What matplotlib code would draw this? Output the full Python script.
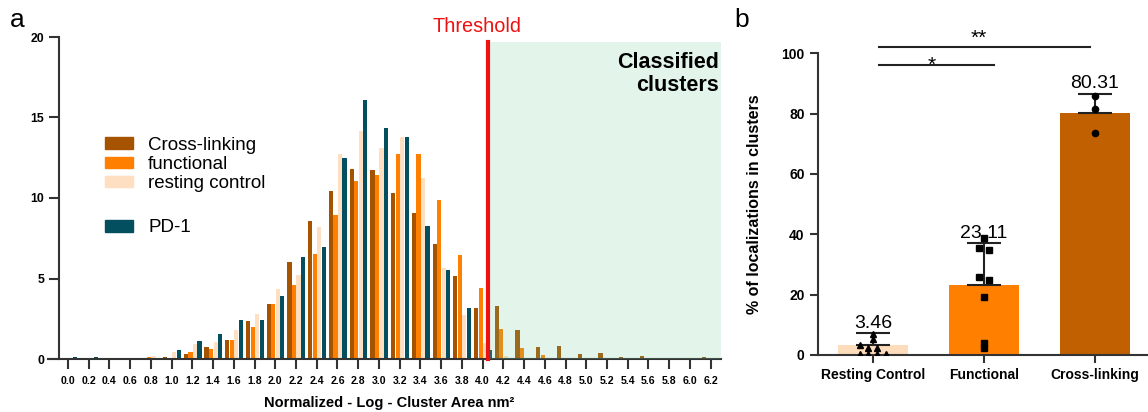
import numpy as np
import matplotlib.pyplot as plt
from matplotlib.patches import Patch

plt.rcParams['font.family'] = ['Liberation Sans', 'DejaVu Sans']

# ---- panel a: histogram of normalized log cluster area ----
bins = np.round(np.arange(32) * 0.2, 1)
cross = [0.05, 0.03, 0.05, 0.03, 0.05, 0.1, 0.3, 0.75, 1.18, 2.36, 3.42, 6.02, 8.57, 10.43,
         11.8, 11.74, 10.31, 9.07, 7.14, 5.16, 3.17, 3.29, 1.8, 0.75, 0.81, 0.31, 0.37, 0.12,
         0.19, 0.0, 0.06, 0.12]
functional = [0.02, 0.0, 0.05, 0.05, 0.1, 0.05, 0.43, 0.62, 1.18, 1.99, 3.42, 4.6, 6.52, 8.94,
              11.06, 11.43, 12.73, 12.73, 9.88, 6.46, 4.41, 1.86, 0.68, 0.25, 0.06, 0.05, 0.0,
              0.0, 0.0, 0.0, 0.0, 0.0]
resting = [0.0, 0.03, 0.02, 0.02, 0.17, 0.44, 0.93, 1.08, 1.8, 2.8, 4.35, 5.22, 8.2, 12.73,
           14.16, 13.1, 13.79, 11.24, 5.65, 2.73, 0.99, 0.19, 0.0, 0.0, 0.0, 0.0, 0.0, 0.0,
           0.0, 0.0, 0.0, 0.0]
pd1 = [0.14, 0.14, 0.0, 0.0, 0.0, 0.56, 1.12, 1.55, 2.42, 2.42, 3.91, 6.34, 6.96, 12.48,
       16.09, 14.35, 13.79, 8.26, 5.53, 3.17, 0.56, 0.0, 0.0, 0.0, 0.0, 0.0, 0.0, 0.0,
       0.0, 0.0, 0.0, 0.0]
hist_labels = ['Cross-linking', 'functional', 'resting control', 'PD-1']
threshold = 4.05

# ---- panel b: % of localizations in clusters ----
groups = ['Resting Control', 'Functional', 'Cross-linking']
means = [3.46, 23.11, 80.31]
upper = [7.2, 37.1, 86.6]
rest_pts = [6.9, 5.2, 3.3, 2.2, 2.2, 0.2, 0.2, 0.2, 0.2]
func_pts = [38.7, 35.6, 34.7, 26.0, 24.8, 19.1, 3.9, 2.4]
cross_pts = [86.0, 81.4, 73.5]

C_CROSS, C_FUNC, C_REST, C_PD1 = '#a65300', '#ff8000', '#ffdfc1', '#034f60'
AX_C = '#333333'

fig = plt.figure(figsize=(11.48, 4.12), dpi=100)

# ---------------- a ----------------
ax = fig.add_axes([48 / 1148, 1 - 359 / 412, (721 - 48) / 1148, (359 - 37) / 412])
w = 0.0405
offs = [-0.063, -0.019, 0.024, 0.068]
bars = []
for vals, c, o, lab in zip([cross, functional, resting, pd1], [C_CROSS, C_FUNC, C_REST, C_PD1],
                           offs, hist_labels):
    bars.append(ax.bar(bins + o, vals, w, color=c, label=lab, zorder=2))
ax.axvspan(threshold + 0.02, 6.30, ymax=19.7 / 20, color='#73c896', alpha=0.2, lw=0, zorder=3)
ax.plot([threshold, threshold], [0, 19.7], color='#ee1111', lw=3, zorder=4, clip_on=False)
ax.text(threshold - 0.1, 20.65, 'Threshold', color='#ee1111', fontsize=14.3, ha='center', va='center')
ax.text(6.28, 17.7, 'Classified\nclusters', fontsize=15.5, fontweight='bold', ha='right', va='center',
        linespacing=1.1, zorder=5)

ax.set_xlim(-0.193, 6.30)
ax.set_ylim(0, 20)
for s in ['top', 'right']:
    ax.spines[s].set_visible(False)
ax.spines['left'].set_position(('data', -0.0897))
for s in ['left', 'bottom']:
    ax.spines[s].set_color(AX_C); ax.spines[s].set_linewidth(1.5)
ax.set_yticks([0, 5, 10, 15, 20])
ax.set_xticks(bins)
ax.set_xticklabels([f'{b:.1f}' for b in bins], fontsize=7.6, fontweight='bold')
for t in ax.get_yticklabels():
    t.set_fontsize(8.8); t.set_fontweight('bold')
ax.tick_params(axis='both', color=AX_C, width=1.5, length=7)
ax.tick_params(axis='x', pad=5)
ax.set_xlabel('Normalized - Log - Cluster Area nm²', fontsize=10.5, fontweight='bold')
ax.xaxis.set_label_coords((389 - 48) / (721 - 48), -0.115)

leg_kw = dict(loc='center left', bbox_transform=fig.transFigure, frameon=False, fontsize=13.5,
              borderpad=0, borderaxespad=0, handlelength=1.5, handleheight=0.55,
              handletextpad=0.8, labelspacing=0.12)
leg1 = ax.legend([Patch(color=C_CROSS), Patch(color=C_FUNC), Patch(color=C_REST)],
                 hist_labels[:3], bbox_to_anchor=(105 / 1148, 1 - 164.5 / 412), **leg_kw)
ax.add_artist(leg1)
ax.legend([Patch(color=C_PD1)], hist_labels[3:], bbox_to_anchor=(105 / 1148, 1 - 228 / 412), **leg_kw)

fig.text(17 / 1148, 1 - 20 / 412, 'a', fontsize=19, ha='center', va='center')
fig.text(742 / 1148, 1 - 20 / 412, 'b', fontsize=19, ha='center', va='center')

# ---------------- b ----------------
bx = fig.add_axes([817.7 / 1148, 1 - 355 / 412, (1146.7 - 817.7) / 1148, (355 - 53.3) / 412])
xs = np.arange(len(groups))
bx.bar(xs, means, 0.63, color=['#fddcbc', '#ff7f00', '#c06000'], zorder=1)
bx.errorbar(xs, means, yerr=[[0, 0, 0], np.array(upper) - np.array(means)], fmt='none',
            ecolor='#222222', elinewidth=1.5, capsize=12, capthick=1.5, zorder=2)
for x, m, u in zip(xs, means, upper):
    bx.annotate(f'{m:.2f}', (x, u), xytext=(0, 4), textcoords='offset points',
                ha='center', va='baseline', fontsize=14)

rest_dx = [0, 0, -0.117, -0.042, 0.039, -0.117, -0.042, 0.039, 0.117]
func_dx = [0, -0.045, 0.045, -0.045, 0.045, 0, 0, 0]
bx.plot(xs[0] + np.array(rest_dx), rest_pts, '^', color='black', ms=5, zorder=3)
bx.plot(xs[1] + np.array(func_dx), func_pts, 's', color='black', ms=4.5, zorder=3)
bx.plot(np.full(len(cross_pts), xs[2]), cross_pts, 'o', color='black', ms=4.5, zorder=3)

# significance brackets
bx.plot([0.054, 1.09], [96.1, 96.1], color='#222222', lw=1.5, clip_on=False)
bx.plot([0.054, 1.955], [102.1, 102.1], color='#222222', lw=1.5, clip_on=False)
bx.text(0.53, 96.0, '*', fontsize=15, ha='center', va='center')
bx.text(0.955, 105.0, '**', fontsize=15, ha='center', va='center')

bx.set_xlim(-0.498, 2.466)
bx.set_ylim(0, 100)
for s in ['top', 'right']:
    bx.spines[s].set_visible(False)
for s in ['left', 'bottom']:
    bx.spines[s].set_color(AX_C); bx.spines[s].set_linewidth(1.5)
bx.set_xticks(xs)
bx.set_xticklabels(groups, fontsize=10, fontweight='bold')
bx.set_yticks([0, 20, 40, 60, 80, 100])
for t in bx.get_yticklabels():
    t.set_fontsize(10); t.set_fontweight('bold')
bx.tick_params(axis='both', color=AX_C, width=1.5, length=6)
bx.set_ylabel('% of localizations in clusters', fontsize=11.5, fontweight='bold')
bx.yaxis.set_label_coords(-0.17, 0.5)

plt.savefig('out.png', dpi=100)
